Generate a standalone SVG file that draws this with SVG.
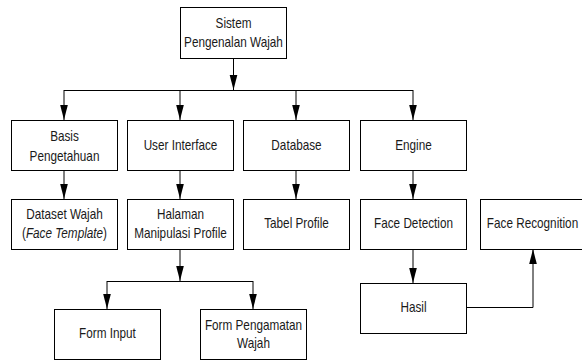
<svg xmlns="http://www.w3.org/2000/svg" width="582" height="362" viewBox="0 0 582 362">
<defs>
<marker id="ah" markerUnits="userSpaceOnUse" markerWidth="16" markerHeight="10" viewBox="0 0 16 10" refX="15" refY="5" orient="auto">
<path d="M0,1.2 L15,5 L0,8.8 Z" fill="#000"/>
</marker>
</defs>
<style>
rect{fill:#fff;stroke:#000;stroke-width:1}
text{font-family:"Liberation Sans",Arial,sans-serif;font-size:14px;fill:#1a1a1a;text-anchor:middle}
.c{fill:none;stroke:#000;stroke-width:1}
.a{marker-end:url(#ah)}
</style>
<g id="connectors">
<path class="c a" d="M233.5,58 V90"/>
<path class="c" d="M64,90.5 H413"/>
<path class="c a" d="M64,90 V120"/>
<path class="c a" d="M180,90 V120"/>
<path class="c a" d="M296,90 V120"/>
<path class="c a" d="M413,90 V120"/>
<path class="c a" d="M64,170 V199"/>
<path class="c a" d="M180,170 V199"/>
<path class="c a" d="M296,170 V199"/>
<path class="c a" d="M413,170 V199"/>
<path class="c a" d="M180,249 V281"/>
<path class="c" d="M107,281.5 H253"/>
<path class="c a" d="M107,281 V309"/>
<path class="c a" d="M253,281 V309"/>
<path class="c a" d="M413,249 V283"/>
<path class="c a" d="M467,307.5 H533 V249"/>
</g>
<g id="sistem"><rect x="180.5" y="7.5" width="106" height="51"/><text transform="translate(233.5,28) scale(0.84,1)">Sistem</text><text transform="translate(233.5,47) scale(0.84,1)">Pengenalan Wajah</text></g>
<g id="basis"><rect x="11.5" y="120.5" width="106" height="50"/><text transform="translate(64.5,141) scale(0.84,1)">Basis</text><text transform="translate(64.5,161) scale(0.84,1)">Pengetahuan</text></g>
<g id="ui"><rect x="127.5" y="120.5" width="106" height="50"/><text transform="translate(180.5,150) scale(0.84,1)">User Interface</text></g>
<g id="database"><rect x="243.5" y="120.5" width="106" height="50"/><text transform="translate(296.5,150) scale(0.84,1)">Database</text></g>
<g id="engine"><rect x="360.5" y="120.5" width="106" height="50"/><text transform="translate(413.5,150) scale(0.84,1)">Engine</text></g>
<g id="dataset"><rect x="11.5" y="199.5" width="106" height="50"/><text transform="translate(64.5,219) scale(0.84,1)">Dataset Wajah</text><text transform="translate(64.5,238) scale(0.84,1)">(<tspan font-style="italic">Face Template</tspan>)</text></g>
<g id="halaman"><rect x="127.5" y="199.5" width="106" height="50"/><text transform="translate(180.5,219) scale(0.84,1)">Halaman</text><text transform="translate(180.5,238) scale(0.84,1)">Manipulasi Profile</text></g>
<g id="tabel"><rect x="243.5" y="199.5" width="106" height="50"/><text transform="translate(296.5,228) scale(0.84,1)">Tabel Profile</text></g>
<g id="facedet"><rect x="360.5" y="199.5" width="106" height="50"/><text transform="translate(413.5,228) scale(0.84,1)">Face Detection</text></g>
<g id="facerec"><rect x="480.5" y="199.5" width="106" height="50"/><text transform="translate(532.5,228) scale(0.84,1)">Face Recognition</text></g>
<g id="hasil"><rect x="360.5" y="283.5" width="106" height="50"/><text transform="translate(413.5,312) scale(0.84,1)">Hasil</text></g>
<g id="forminput"><rect x="54.5" y="309.5" width="106" height="50"/><text transform="translate(107.5,338) scale(0.84,1)">Form Input</text></g>
<g id="formpeng"><rect x="200.5" y="309.5" width="106" height="50"/><text transform="translate(253.5,330) scale(0.84,1)">Form Pengamatan</text><text transform="translate(253.5,348) scale(0.84,1)">Wajah</text></g>
</svg>
